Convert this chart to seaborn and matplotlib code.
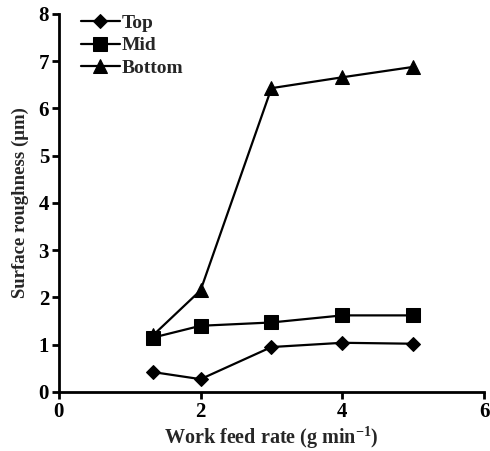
import matplotlib
matplotlib.use("Agg")
import matplotlib.pyplot as plt
import seaborn as sns
import pandas as pd

feed_rate = [1.33, 2.0, 3.0, 4.0, 5.0]
top = [0.42, 0.27, 0.95, 1.04, 1.02]
mid = [1.15, 1.40, 1.47, 1.62, 1.62]
bottom = [1.20, 2.15, 6.43, 6.66, 6.88]
series_names = ["Top", "Mid", "Bottom"]
x_ticks = [0, 2, 4, 6]
y_ticks = [0, 1, 2, 3, 4, 5, 6, 7, 8]

rows = []
for name, vals in zip(series_names, [top, mid, bottom]):
    for xv, yv in zip(feed_rate, vals):
        rows.append({"Work feed rate": xv, "Surface roughness": yv, "Series": name})
df = pd.DataFrame(rows)

sns.set_theme(style="ticks")
plt.rcParams["font.family"] = ["Liberation Serif", "DejaVu Serif"]
plt.rcParams["font.weight"] = "bold"
plt.rcParams["mathtext.fontset"] = "custom"
plt.rcParams["mathtext.rm"] = "Liberation Serif:bold"

fig = plt.figure(figsize=(4.9, 4.51), dpi=100)
ax = fig.add_axes([0.120, 0.131, 0.868, 0.838])

sns.lineplot(
    data=df, x="Work feed rate", y="Surface roughness",
    hue="Series", style="Series", hue_order=series_names, style_order=series_names,
    palette=["black"] * 3, markers={"Top": "D", "Mid": "s", "Bottom": "^"},
    dashes=False, markersize=9, linewidth=1.6, markeredgecolor="black",
    ax=ax, legend=True,
)
msize = {"D": 7.5, "s": 9.5, "^": 10}
for ln in ax.lines:
    m = ln.get_marker()
    if m in msize:
        ln.set_markersize(msize[m])
        ln.set_clip_on(False)

ax.set_xlim(0, 6)
ax.set_ylim(0, 8)
ax.set_xticks(x_ticks)
ax.set_yticks(y_ticks)
for s in ["top", "right"]:
    ax.spines[s].set_visible(False)
for s in ["left", "bottom"]:
    ax.spines[s].set_linewidth(2.0)
    ax.spines[s].set_color("black")
ax.tick_params(axis="both", direction="out", length=5, width=2, colors="black",
               labelsize=15, pad=2)
for lab in ax.get_xticklabels() + ax.get_yticklabels():
    lab.set_fontweight("bold")

ax.set_xlabel("Work feed rate (g min$^{-1}$)", fontsize=14.5, fontweight="bold", labelpad=2)
ax.set_ylabel("Surface roughness (μm)", fontsize=13.5, fontweight="bold", labelpad=7)

leg = ax.legend(loc="upper left", frameon=False, fontsize=14, bbox_to_anchor=(0.02, 1.035),
                handlelength=2.0, handletextpad=0.1, labelspacing=0.25, borderpad=0.2)
for t in leg.get_texts():
    t.set_fontweight("bold")
for h in leg.legend_handles:
    m = h.get_marker()
    if m in msize:
        h.set_markersize(msize[m])

fig.savefig("out.png", dpi=100)
